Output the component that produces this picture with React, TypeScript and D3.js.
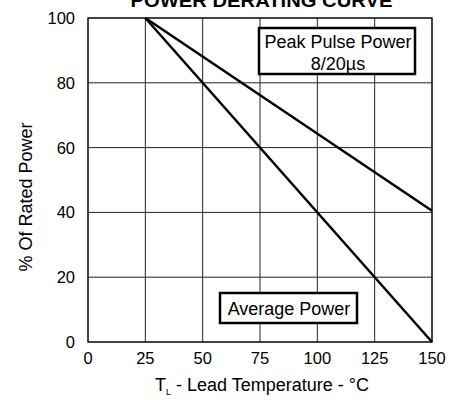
import React from "react";
import * as d3 from "d3";

const xTicks = [0, 25, 50, 75, 100, 125, 150];
const yTicks = [0, 20, 40, 60, 80, 100];
const peakTemp = [25, 150];
const peakPct = [100, 40.5];
const avgTemp = [25, 150];
const avgPct = [100, 0];

const W = 460, H = 400;
const M = { left: 88, right: 28, top: 18, bottom: 58 };

export default function App() {
  const x = d3.scaleLinear().domain([0, 150]).range([M.left, W - M.right]);
  const y = d3.scaleLinear().domain([0, 100]).range([H - M.bottom, M.top]);
  const line = d3.line<[number, number]>().x(d => x(d[0])).y(d => y(d[1]));
  const peak = peakTemp.map((t, i) => [t, peakPct[i]] as [number, number]);
  const avg = avgTemp.map((t, i) => [t, avgPct[i]] as [number, number]);
  const font = "Liberation Sans, Arial, Helvetica, sans-serif";
  return (
    <svg width={W} height={H} style={{ position: "absolute", left: 0, top: 0, fontFamily: font }}>
      <rect width={W} height={H} fill="#fff" />
      <text x={261.5} y={7} textAnchor="middle" fontWeight="bold" fontSize={19} textLength={262} lengthAdjust="spacingAndGlyphs">POWER DERATING CURVE</text>
      {xTicks.map(t => (
        <line key={"gx" + t} x1={x(t)} x2={x(t)} y1={y(0)} y2={y(100)} stroke="#222" strokeWidth={1} />
      ))}
      {yTicks.map(t => (
        <line key={"gy" + t} x1={x(0)} x2={x(150)} y1={y(t)} y2={y(t)} stroke="#222" strokeWidth={1} />
      ))}
      <rect x={x(0)} y={y(100)} width={x(150) - x(0)} height={y(0) - y(100)} fill="none" stroke="#111" strokeWidth={1.2} />
      <path d={line(peak) || ""} fill="none" stroke="#000" strokeWidth={2.5} />
      <path d={line(avg) || ""} fill="none" stroke="#000" strokeWidth={2.5} />
      {xTicks.map(t => (
        <text key={"tx" + t} x={x(t)} y={364} textAnchor="middle" fontSize={16.5}>{t}</text>
      ))}
      {yTicks.map(t => (
        <text key={"ty" + t} x={75} y={y(t) + 6} textAnchor="end" fontSize={16.5}>{t}</text>
      ))}
      <text x={262} y={391} textAnchor="middle" fontSize={18}>
        T<tspan fontSize={9} dy={4}>L</tspan><tspan dy={-4}> - Lead Temperature - °C</tspan>
      </text>
      <text transform="translate(32,197) rotate(-90)" textAnchor="middle" fontSize={18}>% Of Rated Power</text>
      <rect x={259} y={28} width={156} height={46} fill="#fff" stroke="#000" strokeWidth={2.5} />
      <text x={338} y={48} textAnchor="middle" fontSize={18}>Peak Pulse Power</text>
      <text x={338} y={70} textAnchor="middle" fontSize={18}>8/20µs</text>
      <rect x={220} y={293} width={137} height={30} fill="#fff" stroke="#000" strokeWidth={2.5} />
      <text x={289} y={315} textAnchor="middle" fontSize={18}>Average Power</text>
    </svg>
  );
}
